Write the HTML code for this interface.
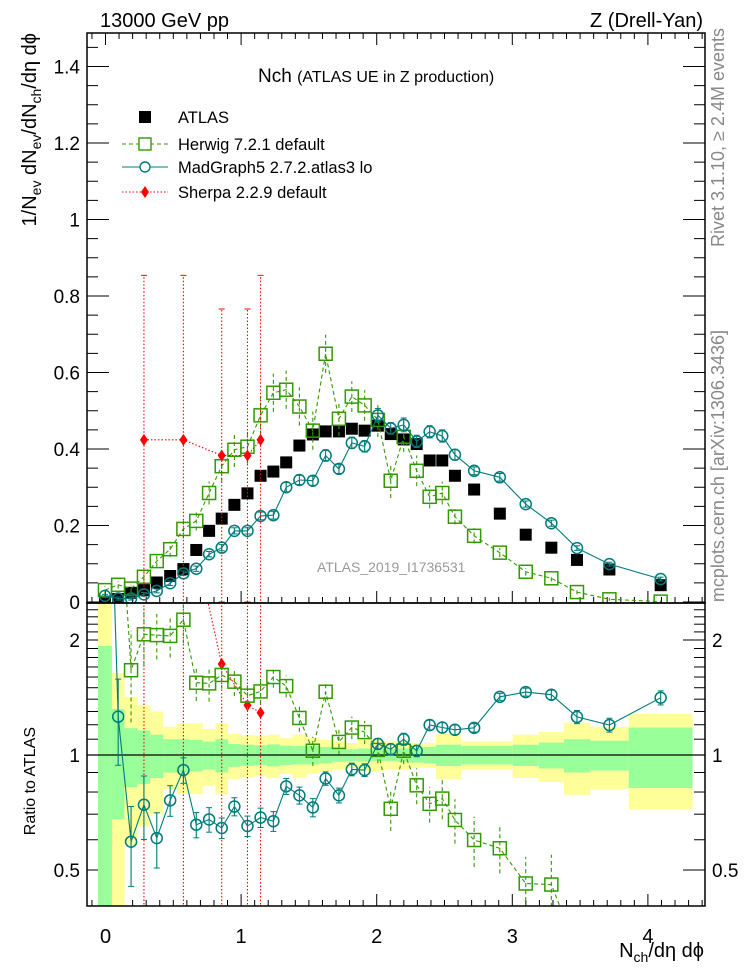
<!DOCTYPE html>
<html><head><meta charset="utf-8"><style>
html,body{margin:0;padding:0;background:#fff;overflow:hidden;width:746px;height:972px;}
svg{display:block;font-family:"Liberation Sans",Arial,sans-serif;}
</style></head><body>
<svg id="chart" width="746" height="972" viewBox="0 0 746 972" xmlns="http://www.w3.org/2000/svg" overflow="hidden">
<defs>
<clipPath id="cm"><rect x="87" y="33" width="618" height="570"/></clipPath>
<clipPath id="cr"><rect x="87" y="603" width="618" height="303"/></clipPath>
</defs>
<text x="100" y="27" font-size="20">13000 GeV pp</text>
<text x="703" y="27" font-size="20" text-anchor="end">Z (Drell-Yan)</text>
<text x="258" y="82" font-size="19">Nch <tspan font-size="16">(ATLAS UE in Z production)</tspan></text>
<text transform="translate(36,33) rotate(-90)" text-anchor="end" font-size="20">1/N<tspan font-size="14" dy="5">ev</tspan><tspan dy="-5"> dN</tspan><tspan font-size="14" dy="5">ev</tspan><tspan dy="-5">/dN</tspan><tspan font-size="14" dy="5">ch</tspan><tspan dy="-5">/dη dϕ</tspan></text>
<text transform="translate(35,727) rotate(-90)" text-anchor="end" font-size="16">Ratio to ATLAS</text>
<text x="704" y="957" font-size="20" text-anchor="end">N<tspan font-size="14" dy="5">ch</tspan><tspan dy="-5">/dη dϕ</tspan></text>
<text transform="translate(724,28) rotate(-90)" text-anchor="end" font-size="18" fill="#888">Rivet 3.1.10, ≥ 2.4M events</text>
<text transform="translate(724,330) rotate(-90)" text-anchor="end" font-size="18" fill="#888">mcplots.cern.ch [arXiv:1306.3436]</text>
<text x="317" y="572" font-size="14" fill="#999">ATLAS_2019_I1736531</text>
<g id="legend" font-size="16.5">
 <g><rect x="139" y="111" width="12" height="12" fill="#000"/><text x="178" y="123">ATLAS</text></g>
 <g><line x1="122" y1="144" x2="168" y2="144" stroke="#339900" stroke-dasharray="4,3"/><rect x="139" y="138" width="12" height="12" fill="#fff" stroke="#339900" stroke-width="1.4"/><text x="178" y="150">Herwig 7.2.1 default</text></g>
 <g><line x1="122" y1="167" x2="168" y2="167" stroke="#007b7b"/><circle cx="145" cy="167" r="5" fill="#fff" stroke="#007b7b" stroke-width="1.4"/><text x="178" y="173">MadGraph5 2.7.2.atlas3 lo</text></g>
 <g><line x1="122" y1="192" x2="168" y2="192" stroke="#f00" stroke-dasharray="1.5,2"/><path d="M145,186 L149,192 L145,198 L141,192Z" fill="#f00"/><text x="178" y="198">Sherpa 2.2.9 default</text></g>
</g>
<g id="axes"></g>
<g id="marks-main" clip-path="url(#cm)"></g>
<g id="marks-ratio" clip-path="url(#cr)"></g>
<rect x="87" y="33" width="618" height="570" fill="none" stroke="#000" stroke-width="1.5"/>
<rect x="87" y="603" width="618" height="303" fill="none" stroke="#000" stroke-width="1.5"/>
</svg>
<script>
const binEdges=[-0.055,0.047,0.140,0.237,0.330,0.426,0.528,0.621,0.718,0.810,0.904,0.997,1.097,1.190,1.286,1.379,1.481,1.577,1.670,1.773,1.860,1.962,2.055,2.152,2.246,2.344,2.437,2.530,2.624,2.813,3.003,3.195,3.381,3.573,3.859,4.329];
const atlasValues=[0.001,0.008,0.024,0.031,0.051,0.068,0.086,0.136,0.186,0.218,0.254,0.284,0.330,0.341,0.365,0.409,0.438,0.446,0.446,0.453,0.448,0.461,0.439,0.425,0.413,0.370,0.370,0.330,0.294,0.231,0.176,0.142,0.110,0.085,0.044];
const herwigValues=[0.031,0.045,0.035,0.066,0.107,0.138,0.191,0.212,0.285,0.355,0.398,0.406,0.488,0.547,0.555,0.511,0.448,0.649,0.479,0.537,0.514,0.476,0.317,0.432,0.343,0.275,0.285,0.223,0.173,0.129,0.079,0.062,0.026,0.007,0.001];
const herwigErr=[0.01,0.01,0.01,0.012,0.015,0.02,0.025,0.025,0.03,0.04,0.045,0.045,0.05,0.05,0.05,0.05,0.05,0.05,0.045,0.04,0.04,0.045,0.045,0.04,0.04,0.03,0.03,0.02,0.02,0.012,0.01,0.008,0.006,0.004,0.003];
const madgraphValues=[0.016,0.009,0.009,0.020,0.029,0.049,0.075,0.087,0.125,0.142,0.186,0.186,0.225,0.227,0.300,0.319,0.317,0.383,0.348,0.416,0.407,0.488,0.454,0.463,0.420,0.445,0.434,0.385,0.343,0.326,0.256,0.206,0.141,0.099,0.060];
const madgraphErr=[0.004,0.004,0.004,0.005,0.005,0.006,0.006,0.007,0.007,0.008,0.008,0.008,0.01,0.01,0.012,0.012,0.012,0.015,0.012,0.015,0.015,0.018,0.015,0.018,0.016,0.016,0.016,0.014,0.01,0.01,0.008,0.008,0.006,0.005,0.005];
const sherpaIndex=[3,6,9,11,12];
const sherpaValues=[0.424,0.424,0.383,0.383,0.424];
const sherpaErr=[0.43,0.43,0.383,0.383,0.43];
const herwigRatio=[30,5.6,1.667,2.07,2.06,2.05,2.26,1.546,1.54,1.62,1.556,1.43,1.467,1.60,1.515,1.25,1.026,1.464,1.082,1.18,1.148,1.031,0.723,1.026,0.833,0.745,0.769,0.676,0.599,0.57,0.461,0.458,0.24,0.08,0.02];
const herwigRatioErr=[10,2,0.45,0.35,0.28,0.25,0.3,0.16,0.16,0.13,0.13,0.12,0.11,0.1,0.1,0.1,0.09,0.09,0.08,0.08,0.08,0.08,0.09,0.08,0.09,0.08,0.09,0.09,0.09,0.08,0.08,0.09,0.1,0.1,0.1];
const madgraphRatio=[16,1.26,0.593,0.741,0.606,0.761,0.913,0.657,0.678,0.644,0.733,0.652,0.686,0.671,0.828,0.784,0.729,0.868,0.784,0.917,0.913,1.069,1.035,1.10,1.025,1.198,1.18,1.164,1.178,1.42,1.461,1.438,1.258,1.198,1.412];
const madgraphRatioErr=[5,0.32,0.14,0.14,0.1,0.07,0.07,0.05,0.05,0.04,0.04,0.04,0.04,0.04,0.04,0.04,0.04,0.035,0.035,0.035,0.035,0.035,0.035,0.04,0.035,0.035,0.035,0.035,0.03,0.03,0.035,0.04,0.05,0.05,0.06];
const sherpaRatio=[14,4.9,1.73,1.35,1.29];
const sherpaRatioErr=[14,4.9,1.75,1.35,1.3];
const statUnc=[0.93,0.32,0.176,0.16,0.13,0.10,0.10,0.095,0.084,0.10,0.069,0.064,0.06,0.066,0.058,0.055,0.055,0.05,0.04,0.035,0.04,0.035,0.035,0.04,0.045,0.05,0.064,0.064,0.055,0.055,0.064,0.078,0.10,0.09,0.18];
const totUnc=[1.8,0.64,0.42,0.35,0.30,0.185,0.21,0.21,0.17,0.21,0.136,0.127,0.12,0.13,0.107,0.13,0.107,0.095,0.085,0.075,0.095,0.095,0.085,0.085,0.075,0.075,0.136,0.136,0.085,0.085,0.13,0.15,0.215,0.185,0.28];
const mainTicks=["0","0.2","0.4","0.6","0.8","1","1.2","1.4"];
const ratioTicks=["0.5","1","2"];
const xTicks=["0","1","2","3","4"];

const NS="http://www.w3.org/2000/svg";
const X=v=>105.5+135.6*v;
const Ym=v=>Math.min(602-382.5*v,950);
const Yr=r=>r<=0.05?950:Math.min(755-115*Math.log2(r),950);
const center=i=>(binEdges[i]+binEdges[i+1])/2;
function mk(parent,tag,attrs){const e=document.createElementNS(NS,tag);for(const k in attrs)e.setAttribute(k,attrs[k]);parent.appendChild(e);return e;}
const axes=document.getElementById('axes');
const gm=document.getElementById('marks-main');
const gr=document.getElementById('marks-ratio');

for(let k=-1;k<=44;k++){const v=k/10;const x=X(v);if(x<88||x>704)continue;const major=k%10===0;const L=major?12:6;
 let t=mk(axes,'line',{x1:x,x2:x,y1:906,y2:906-L,stroke:'#000'});
 
 
 t=mk(axes,'line',{x1:x,x2:x,y1:603,y2:603-L,stroke:'#000'});
 
 
 t=mk(axes,'line',{x1:x,x2:x,y1:33,y2:33+L,stroke:'#000'});
 
 
}
xTicks.forEach(s=>{const t=mk(axes,'text',{x:X(parseFloat(s)),y:943,'font-size':20,'text-anchor':'middle'});t.textContent=s;
 
 });
for(let k=0;k<=29;k++){const v=k*0.05;const y=Ym(v);const major=k%4===0;const L=major?22:11;
 let t=mk(axes,'line',{x1:87,x2:87+L,y1:y,y2:y,stroke:'#000'});
 
 
 t=mk(axes,'line',{x1:705,x2:705-L,y1:y,y2:y,stroke:'#000'});
 
 }
mainTicks.forEach(s=>{const t=mk(axes,'text',{x:80,y:Ym(parseFloat(s))+7,'font-size':19,'text-anchor':'end'});t.textContent=s;
 
 });
for(let k=4;k<=25;k++){const r=k/10;const y=Yr(r);if(y<604||y>905)continue;const major=(k===5||k===10||k===20);const L=major?22:11;
 let t=mk(axes,'line',{x1:87,x2:87+L,y1:y,y2:y,stroke:'#000'});
 
 
 t=mk(axes,'line',{x1:705,x2:705-L,y1:y,y2:y,stroke:'#000'});
 
 }
ratioTicks.forEach(s=>{const r=parseFloat(s);
 let t=mk(axes,'text',{x:80,y:Yr(r)+7,'font-size':19,'text-anchor':'end'});t.textContent=s;
 
 
 t=mk(axes,'text',{x:712,y:Yr(r)+7,'font-size':19});t.textContent=s;
 
 });

totUnc.forEach((u,i)=>{const x1=X(binEdges[i]),x2=X(binEdges[i+1]);const y1=Math.max(Yr(1+u),600),y2=Math.min(Yr(1-u),910);
 const r=mk(gr,'rect',{x:x1,y:y1,width:x2-x1,height:y2-y1,fill:'#ffff99'});
 
 });
statUnc.forEach((u,i)=>{const x1=X(binEdges[i]),x2=X(binEdges[i+1]);const y1=Math.max(Yr(1+u),600),y2=Math.min(Yr(1-u),910);
 const r=mk(gr,'rect',{x:x1,y:y1,width:x2-x1,height:y2-y1,fill:'#99ff99'});
 
 });
let one=mk(gr,'line',{x1:87,x2:705,y1:Yr(1),y2:Yr(1),stroke:'#000','stroke-width':1.2});



function series(g,xs,ys,los,his,opt){
 const grp=mk(g,'g',{});
 
 
 const pts=xs.map((x,i)=>X(x).toFixed(1)+','+ys[i].toFixed(1)).join(' ');
 mk(grp,'polyline',{points:pts,fill:'none',stroke:opt.color,'stroke-width':1.1,'stroke-dasharray':opt.dash||'none'});
 xs.forEach((x,i)=>{const cx=X(x);
  mk(grp,'line',{x1:cx,x2:cx,y1:los[i],y2:his[i],stroke:opt.color,'stroke-width':1.1,'stroke-dasharray':opt.edash||'none'});
  if(opt.caps){mk(grp,'line',{x1:cx-3,x2:cx+3,y1:los[i],y2:los[i],stroke:opt.color});mk(grp,'line',{x1:cx-3,x2:cx+3,y1:his[i],y2:his[i],stroke:opt.color});}
  const cy=ys[i];let m;
  if(opt.marker==='sq') m=mk(grp,'rect',{x:cx-6.5,y:cy-6.5,width:13,height:13,fill:'none',stroke:opt.color,'stroke-width':1.5});
  else if(opt.marker==='circ') m=mk(grp,'circle',{cx:cx,cy:cy,r:5.5,fill:'none',stroke:opt.color,'stroke-width':1.5});
  else m=mk(grp,'path',{d:`M${cx},${cy-6}L${cx+4},${cy}L${cx},${cy+6}L${cx-4},${cy}Z`,fill:opt.color});
  
  
 });
}
const xc=atlasValues.map((_,i)=>center(i));
atlasValues.forEach((v,i)=>{const r=mk(gm,'rect',{x:X(xc[i])-6,y:Ym(v)-6,width:12,height:12,fill:'#000'});
 
 });
series(gm,xc,herwigValues.map(Ym),herwigValues.map((v,i)=>Ym(v-herwigErr[i])),herwigValues.map((v,i)=>Ym(v+herwigErr[i])),{name:'herwig-series',color:'#339900',dash:'4,3',edash:'4,3',marker:'sq'});
series(gm,xc,madgraphValues.map(Ym),madgraphValues.map((v,i)=>Ym(v-madgraphErr[i])),madgraphValues.map((v,i)=>Ym(v+madgraphErr[i])),{name:'madgraph-series',color:'#007b7b',marker:'circ',caps:true});
const sx=sherpaIndex.map(center);
series(gm,sx,sherpaValues.map(Ym),sherpaValues.map((v,i)=>Ym(v-sherpaErr[i])),sherpaValues.map((v,i)=>Ym(v+sherpaErr[i])),{name:'sherpa-series',color:'#ff0000',dash:'1.5,2',edash:'1.5,2',marker:'dia',caps:true});
series(gr,sx,sherpaRatio.map(Yr),sherpaRatio.map((v,i)=>Yr(v-sherpaRatioErr[i])),sherpaRatio.map((v,i)=>Yr(v+sherpaRatioErr[i])),{name:'sherpa-ratio',color:'#ff0000',dash:'1.5,2',edash:'1.5,2',marker:'dia'});
series(gr,xc,herwigRatio.map(Yr),herwigRatio.map((v,i)=>Yr(v-herwigRatioErr[i])),herwigRatio.map((v,i)=>Yr(v+herwigRatioErr[i])),{name:'herwig-ratio',color:'#339900',dash:'4,3',edash:'4,3',marker:'sq'});
series(gr,xc,madgraphRatio.map(Yr),madgraphRatio.map((v,i)=>Yr(v-madgraphRatioErr[i])),madgraphRatio.map((v,i)=>Yr(v+madgraphRatioErr[i])),{name:'madgraph-ratio',color:'#007b7b',marker:'circ',caps:true});
</script>
</body></html>
